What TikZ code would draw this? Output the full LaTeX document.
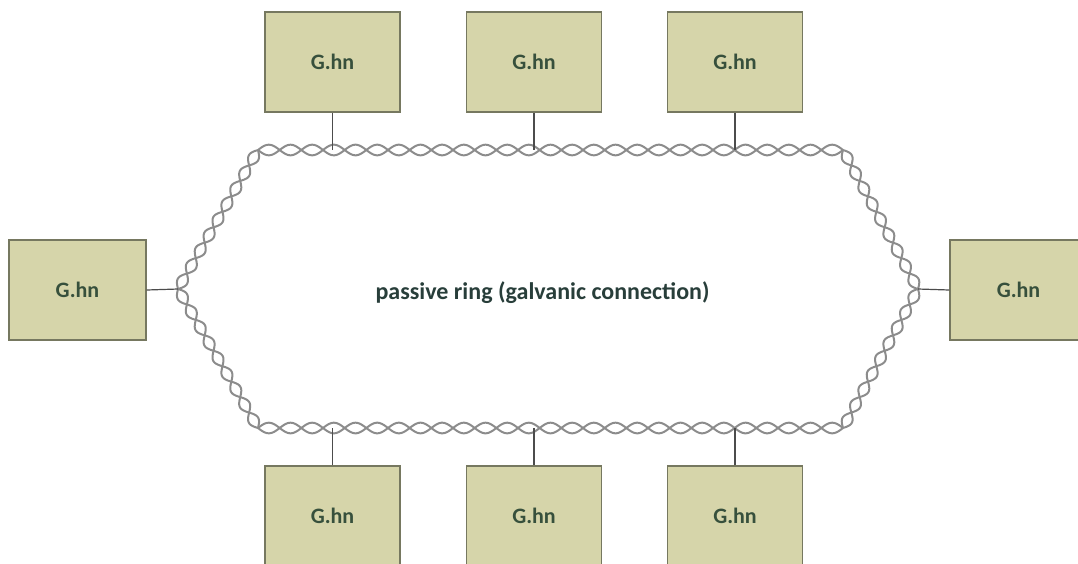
\documentclass[tikz,border=0pt]{standalone}
\usepackage{fontspec}
\setmainfont{Carlito}
\usetikzlibrary{calc}
\definecolor{boxfill}{RGB}{214,213,170}
\definecolor{boxline}{RGB}{118,120,96}
\definecolor{txt}{RGB}{55,80,60}
\definecolor{lbltxt}{RGB}{40,62,58}
\definecolor{ringc}{RGB}{140,140,140}
\begin{document}
\begin{tikzpicture}[x=1pt,y=-1pt,
  ghn/.style={draw=boxline,line width=1.3pt,fill=boxfill,minimum width=135pt,minimum height=100pt,inner sep=0pt,
    font=\fontsize{22}{24}\selectfont\bfseries,text=txt},
  tap/.style={draw=black!70,line width=1.2pt},
  strand/.style={draw=ringc,line width=2pt}]
\useasboundingbox (0,0) rectangle (1078,563);
\clip (0,0) rectangle (1078,563);
% ring corners
\coordinate (L) at (178,289);
\coordinate (TL) at (258,150);
\coordinate (TR) at (843,150);
\coordinate (R) at (918,289);
\coordinate (BR) at (843,428);
\coordinate (BL) at (258,428);
% ring (twisted pair): two sine strands in antiphase per side
\foreach \a/\b/\k in {L/TL/9, TL/TR/27, TR/R/9, R/BR/9, BR/BL/27, BL/L/9}{
  \foreach \sg in {1,-1}{
    \draw[strand] let \p1=(\a), \p2=(\b), \n1={veclen(\x2-\x1,\y2-\y1)} in
      plot[domain=0:1,samples=\k*16+1,variable=\t,smooth]
        ({\x1+\t*(\x2-\x1)-\sg*5.3*sin(180*\k*\t)*(\y2-\y1)/\n1},
         {\y1+\t*(\y2-\y1)+\sg*5.3*sin(180*\k*\t)*(\x2-\x1)/\n1});
  }
}
% boxes
\node[ghn] (t1) at (332.5,62) {G.hn};
\node[ghn] (t2) at (534,62) {G.hn};
\node[ghn] (t3) at (735,62) {G.hn};
\node[ghn,minimum width=137pt] (l) at (77.5,290) {G.hn};
\node[ghn,minimum width=137pt] (r) at (1018.5,290) {G.hn};
\node[ghn] (b1) at (332.5,516) {G.hn};
\node[ghn] (b2) at (534,516) {G.hn};
\node[ghn] (b3) at (735,516) {G.hn};
% tap points on ring
\coordinate (p1) at (332.5,150);
\coordinate (p2) at (534,150);
\coordinate (p3) at (735,150);
\coordinate (q1) at (332.5,428);
\coordinate (q2) at (534,428);
\coordinate (q3) at (735,428);
\draw[tap] (t1.south) -- (p1);
\draw[tap] (t2.south) -- (p2);
\draw[tap] (t3.south) -- (p3);
\draw[tap] (b1.north) -- (q1);
\draw[tap] (b2.north) -- (q2);
\draw[tap] (b3.north) -- (q3);
\draw[tap] (l.east) -- (L);
\draw[tap] (r.west) -- (R);
% label
\node[font=\fontsize{24}{26}\selectfont\bfseries,text=lbltxt] (lbl) at (542.5,293) {passive ring (galvanic connection)};
\end{tikzpicture}
\end{document}
